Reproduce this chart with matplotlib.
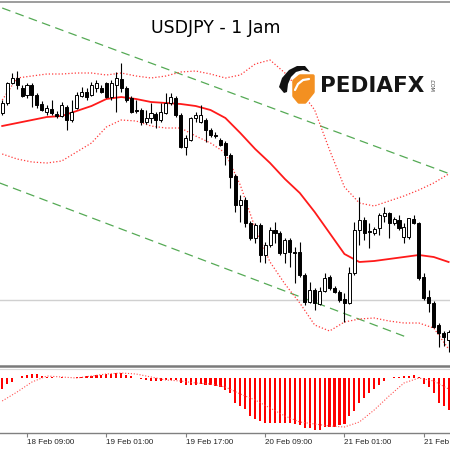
import numpy as np
import matplotlib
matplotlib.use("Agg")
import matplotlib.pyplot as plt
from matplotlib.patches import Polygon
from matplotlib.lines import Line2D

# hourly bars, index 0 = 18 Feb 09:00
hours = np.arange(-5, 86)

opens = [151.87, 151.97, 152.17, 152.22, 152.12, 152.05, 152.15, 152.05, 151.96, 151.88,
         151.91, 151.86, 151.84, 151.93, 151.80, 151.92, 152.04, 152.08, 152.05, 152.12,
         152.12, 152.17, 152.03, 152.15, 152.21, 152.12, 152.02, 151.90, 151.90, 151.78,
         151.82, 151.86, 151.80, 151.87, 151.97, 152.02, 151.85, 151.53, 151.60, 151.82,
         151.78, 151.80, 151.70, 151.65, 151.60, 151.57, 151.45, 151.24, 150.95, 151.00,
         150.77, 150.62, 150.75, 150.45, 150.55, 150.70, 150.67, 150.47, 150.60, 150.48,
         150.48, 150.25, 149.98, 150.10, 149.96, 150.09, 150.23, 150.12, 150.08, 150.01,
         149.97, 150.27, 150.70, 150.80, 150.69, 150.67, 150.72, 150.84, 150.87, 150.77,
         150.80, 150.63, 150.63, 150.81, 150.77, 150.23, 150.03, 149.97, 149.75, 149.67,
         149.60]
highs = [152.00, 152.18, 152.27, 152.29, 152.15, 152.17, 152.17, 152.07, 151.99, 151.95,
         152.00, 151.89, 151.98, 151.95, 152.00, 152.08, 152.13, 152.12, 152.18, 152.20,
         152.15, 152.18, 152.20, 152.28, 152.37, 152.14, 152.04, 152.00, 151.92, 151.90,
         151.97, 151.88, 151.97, 152.07, 152.07, 152.04, 151.87, 151.65, 151.83, 151.88,
         151.95, 151.82, 151.72, 151.68, 151.62, 151.59, 151.47, 151.26, 151.05, 151.03,
         150.79, 150.77, 150.77, 150.58, 150.73, 150.78, 150.69, 150.62, 150.62, 150.53,
         150.58, 150.27, 150.18, 150.12, 150.13, 150.27, 150.25, 150.14, 150.10, 150.07,
         150.33, 150.78, 151.03, 150.83, 150.77, 150.73, 150.87, 150.93, 150.88, 150.83,
         150.85, 150.77, 150.82, 150.85, 150.78, 150.27, 150.10, 149.99, 149.77, 149.69,
         149.70]
lows = [151.85, 151.95, 152.16, 152.11, 152.03, 152.02, 151.93, 151.92, 151.89, 151.85,
        151.85, 151.82, 151.83, 151.70, 151.78, 151.91, 152.03, 152.00, 152.04, 152.08,
        152.07, 152.02, 152.00, 151.88, 152.08, 151.98, 151.87, 151.87, 151.75, 151.76,
        151.77, 151.72, 151.78, 151.86, 151.95, 151.83, 151.52, 151.45, 151.59, 151.78,
        151.77, 151.58, 151.63, 151.62, 151.54, 151.35, 151.12, 150.88, 150.78, 150.73,
        150.60, 150.57, 150.38, 150.37, 150.53, 150.57, 150.45, 150.37, 150.33, 150.17,
        150.23, 149.95, 149.97, 149.90, 149.95, 150.08, 150.10, 150.07, 149.98, 149.78,
        149.96, 150.25, 150.55, 150.60, 150.52, 150.65, 150.65, 150.78, 150.62, 150.75,
        150.70, 150.57, 150.61, 150.76, 150.20, 150.00, 149.88, 149.72, 149.53, 149.54,
        149.48]
closes = [151.97, 152.17, 152.22, 152.15, 152.04, 152.15, 152.05, 151.95, 151.90, 151.92,
          151.87, 151.84, 151.95, 151.80, 151.88, 152.05, 152.08, 152.03, 152.15, 152.17,
          152.08, 152.03, 152.17, 152.22, 152.12, 152.00, 151.88, 151.89, 151.78, 151.82,
          151.87, 151.80, 151.88, 151.97, 152.03, 151.85, 151.53, 151.62, 151.82, 151.85,
          151.85, 151.70, 151.65, 151.64, 151.55, 151.45, 151.23, 150.95, 151.00, 150.77,
          150.62, 150.75, 150.45, 150.55, 150.70, 150.67, 150.47, 150.60, 150.48, 150.47,
          150.25, 149.98, 150.10, 149.97, 150.09, 150.22, 150.12, 150.08, 150.00, 149.97,
          150.27, 150.70, 150.80, 150.67, 150.68, 150.71, 150.85, 150.87, 150.77, 150.81,
          150.72, 150.73, 150.82, 150.77, 150.22, 150.02, 149.97, 149.73, 149.67, 149.63,
          149.68]

# Bollinger bands read every 3 bars
band_hours = np.arange(-5, 86, 3)
bb_mid = [151.74, 151.77, 151.80, 151.83, 151.84, 151.89, 151.94, 152.01, 152.03, 152.01,
          151.98, 151.97, 151.96, 151.94, 151.90, 151.82, 151.67, 151.51, 151.37, 151.21,
          151.07, 150.88, 150.67, 150.46, 150.38, 150.39, 150.41, 150.43, 150.45, 150.43,
          150.38]
bb_up = [152.00, 152.22, 152.24, 152.26, 152.26, 152.27, 152.27, 152.25, 152.27, 152.24,
         152.22, 152.24, 152.28, 152.29, 152.26, 152.22, 152.25, 152.36, 152.40, 152.27,
         152.10, 151.90, 151.50, 151.13, 150.97, 150.94, 150.99, 151.04, 151.10, 151.17,
         151.26]
bb_low = [151.46, 151.41, 151.38, 151.37, 151.39, 151.48, 151.57, 151.73, 151.80, 151.79,
          151.74, 151.72, 151.72, 151.64, 151.57, 151.47, 151.15, 150.72, 150.38, 150.16,
          149.97, 149.75, 149.69, 149.78, 149.81, 149.82, 149.79, 149.77, 149.77, 149.72,
          149.51]

# channel lines (start/end)
chan_up_x, chan_up_y = [-5.0, 85.3], [152.92, 151.26]
chan_low_x, chan_low_y = [-5.5, 77.0], [151.17, 149.62]
price_line = 150.00

# MACD
macd_hist = [-0.044, -0.024, -0.016, 0.002, 0.008, 0.014, 0.018, 0.016, 0.010, 0.006,
             0.004, 0.002, 0.004, 0.002, 0.002, 0.004, 0.006, 0.008, 0.010, 0.014,
             0.014, 0.016, 0.018, 0.022, 0.020, 0.014, 0.008, 0.002, -0.004, -0.008,
             -0.010, -0.012, -0.012, -0.008, -0.006, -0.008, -0.020, -0.028, -0.028, -0.026,
             -0.024, -0.026, -0.028, -0.030, -0.036, -0.046, -0.060, -0.100, -0.112, -0.124,
             -0.152, -0.164, -0.172, -0.180, -0.180, -0.180, -0.180, -0.180, -0.180, -0.184,
             -0.188, -0.200, -0.200, -0.208, -0.208, -0.196, -0.196, -0.196, -0.188, -0.184,
             -0.152, -0.132, -0.100, -0.080, -0.060, -0.044, -0.028, -0.010, 0.001, 0.004,
             0.006, 0.008, 0.010, 0.014, 0.004, -0.024, -0.036, -0.060, -0.100, -0.112,
             -0.128]
macd_signal = [-0.092, -0.056, -0.016, 0.008, 0.004, 0.000, 0.008, 0.016, 0.020, 0.016,
               0.004, -0.008, -0.012, -0.020, -0.024, -0.036, -0.064, -0.088, -0.120, -0.152,
               -0.176, -0.184, -0.192, -0.196, -0.176, -0.128, -0.072, -0.020, 0.000, -0.012,
               -0.044]

tick_hours = [0, 16, 32, 48, 64, 80]
tick_labels = ["18 Feb 09:00", "19 Feb 01:00", "19 Feb 17:00",
               "20 Feb 09:00", "21 Feb 01:00", "21 Feb 17:00"]

W = H = 450
x_lim = (-27 / 4.96, (W - 27) / 4.96)

fig = plt.figure(figsize=(4.5, 4.5), dpi=100)
fig.patch.set_facecolor("white")

# main pane
ax = fig.add_axes([0, 1 - 365 / H, 1, 363 / H])
ax.set_xlim(*x_lim)
ax.set_ylim(153 - 365 / 100, 153 - 2 / 100)
ax.axis("off")

ax.axhline(price_line, color="#d0d0d0", lw=1.0, zorder=1)
green = dict(color="#55aa55", lw=0.9, linestyle=(0, (7, 4.3)), zorder=2)
ax.plot(chan_up_x, chan_up_y, **green)
ax.plot(chan_low_x, chan_low_y, **green)

dots = dict(color="#ff3b3b", lw=0.9, linestyle=(0, (1, 1.6)), zorder=2)
ax.plot(band_hours, bb_up, **dots)
ax.plot(band_hours, bb_low, **dots)
ax.plot(band_hours, bb_mid, color="#ff1a1a", lw=1.3, zorder=2)

o, h, l, c = map(np.array, (opens, highs, lows, closes))
up = c >= o
bottom = np.minimum(o, c)
height = np.maximum(np.abs(c - o), 0.005)
ax.vlines(hours, l, h, color="black", lw=0.8, zorder=3)
ax.bar(hours[up], height[up], bottom=bottom[up], width=0.62,
       facecolor="white", edgecolor="black", lw=0.7, zorder=4)
ax.bar(hours[~up], height[~up], bottom=bottom[~up], width=0.62,
       facecolor="black", edgecolor="black", lw=0.7, zorder=4)

# MACD pane
ax2 = fig.add_axes([0, 1 - 433 / H, 1, 64 / H])
ax2.set_xlim(*x_lim)
ax2.set_ylim(-0.22, 0.036)
ax2.bar(hours, macd_hist, width=0.44, color="#ff0000", zorder=2)
ax2.plot(band_hours, macd_signal, color="#ff5050", lw=0.8,
         linestyle=(0, (1, 1.6)), zorder=3)
for s in ("top", "left", "right"):
    ax2.spines[s].set_visible(False)
ax2.spines["bottom"].set_color("#808080")
ax2.spines["bottom"].set_linewidth(1.0)
ax2.set_yticks([])
ax2.set_xticks(tick_hours)
ax2.set_xticklabels(tick_labels, ha="left", fontsize=5.8,
                    family="Liberation Sans", color="#222222")
ax2.tick_params(axis="x", length=3, width=0.8, color="#808080", pad=1.2)

# frame lines
fig.add_artist(Line2D([0, 1], [1 - 1.5 / H] * 2, color="#8c8c8c", lw=1.2))
fig.add_artist(Line2D([0, 1], [1 - 366.3 / H] * 2, color="#7a7a7a", lw=1.8))
fig.add_artist(Line2D([0, 1], [1 - 368.8 / H] * 2, color="#d8d8d8", lw=0.8))

# title and logo (pixel overlay)
ov = fig.add_axes([0, 0, 1, 1])
ov.set_xlim(0, W)
ov.set_ylim(H, 0)
ov.axis("off")
ov.patch.set_alpha(0)

ov.text(216, 28, "USDJPY - 1 Jam", ha="center", va="center",
        fontsize=12.5, color="black")

# orange blob
ov.add_patch(Polygon([(294, 81), (300, 76), (313, 76), (313, 92), (305, 102),
                      (299, 102), (294, 96)],
                     closed=True, facecolor="#f39021", edgecolor="#f39021",
                     lw=2.5, joinstyle="round", zorder=5))
# black swoosh
ov.add_patch(Polygon([(279, 87), (282, 78), (289, 70), (297, 66), (305, 66),
                      (310, 72), (303, 70), (296, 72), (291, 77), (288, 84),
                      (287, 92), (284, 93)],
                     closed=True, facecolor="#111111", edgecolor="none", zorder=6))
# white cut
ov.plot([295, 298, 303, 309], [90, 84, 80, 79], color="white", lw=1.6,
        solid_capstyle="round", zorder=6)
ov.text(320, 92.5, "PEDIAFX", ha="left", va="baseline", fontsize=15.5,
        fontweight="bold", color="#151515", zorder=7)
ov.text(431, 85, ".COM", ha="center", va="center", fontsize=3.5,
        rotation=-90, color="#333333", zorder=7)

fig.savefig("out.png", dpi=100)
